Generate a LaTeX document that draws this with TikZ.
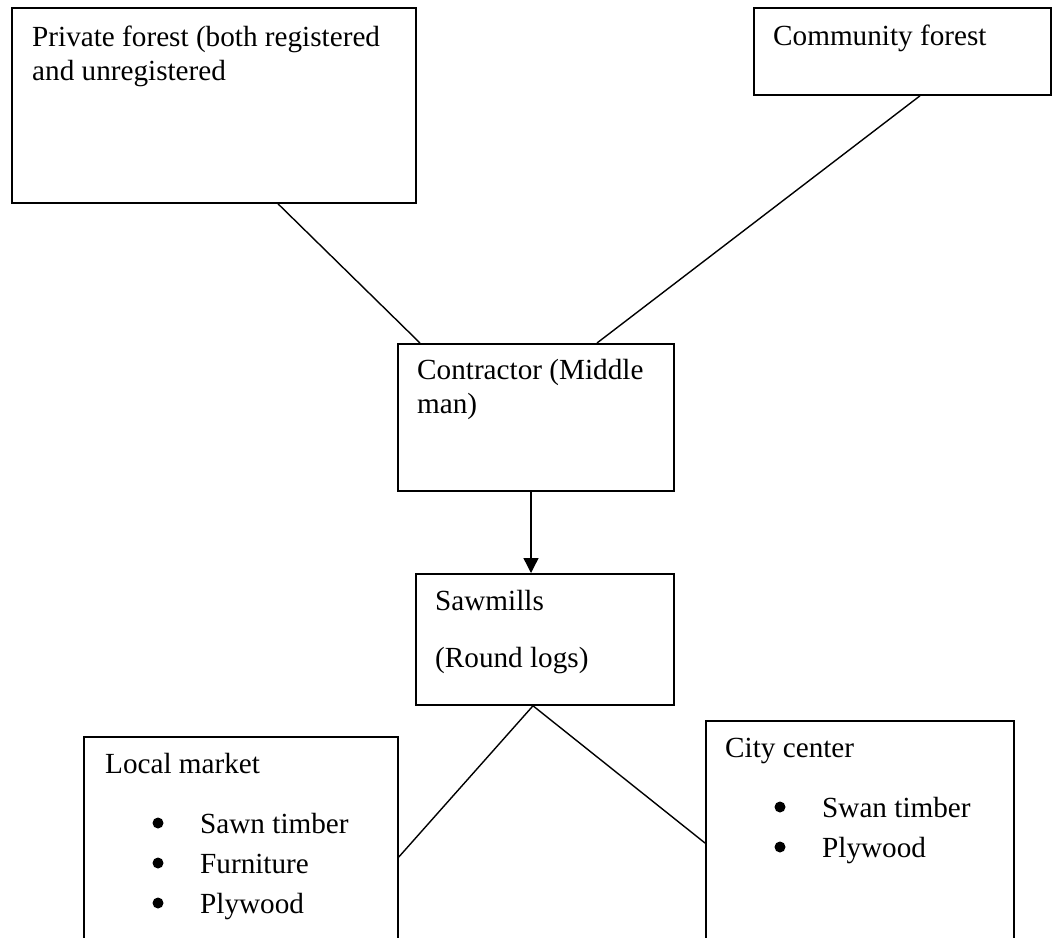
\documentclass[tikz,border=0pt]{standalone}
\usepackage{fontspec}
\setmainfont{Liberation Serif}
\usetikzlibrary{calc,arrows.meta}
\tikzset{
  box/.style={draw, line width=1.8pt, inner sep=0pt},
  txt/.style={anchor=base west, inner sep=0pt, font=\fontsize{29.2}{34}\selectfont},
  link/.style={line width=1.4pt}
}
\newcommand{\flowbox}[5]{
  \node [box, anchor=north west, minimum width={(#4)-(#2)}, minimum height={(#5)-(#3)}] (#1) at (#2,#3) {};
}
\newcommand{\boxtext}[4]{
  \node [txt] (#1) at (#2,#3) {#4};
}
% bullet dot sits 42pt left of the item text
\newcommand{\bulletitem}[4]{
  \node [txt] (#1) at (#2,#3) {#4};
  \fill ($(#1.base west)+(-42,-10)$) circle (5.5);
}
\begin{document}
\begin{tikzpicture}[x=1pt, y=-1pt]
        \clip (0,0) rectangle (1057,937);
        \flowbox{priv}{11}{7}{415}{202}
        \flowbox{comm}{753}{7}{1050}{94}
        \flowbox{contr}{397}{343}{673}{490}
        \flowbox{sawm}{415}{573}{673}{704}
        \flowbox{local}{83}{736}{397}{960}
        \flowbox{city}{705}{720}{1013}{960}
        \boxtext{privA}{32}{46}{Private forest (both registered}
        \boxtext{privB}{32}{80}{and unregistered}
        \boxtext{commA}{773}{45}{Community forest}
        \boxtext{contrA}{417}{379}{Contractor (Middle}
        \boxtext{contrB}{417}{413}{man)}
        \boxtext{sawmA}{435}{610}{Sawmills}
        \boxtext{sawmB}{435}{667}{(Round logs)}
        \boxtext{localA}{105}{773}{Local market}
        \bulletitem{localB}{200}{833}{Sawn timber}
        \bulletitem{localC}{200}{873}{Furniture}
        \bulletitem{localD}{200}{913}{Plywood}
        \boxtext{cityA}{725}{757}{City center}
        \bulletitem{cityB}{822}{817}{Swan timber}
        \bulletitem{cityC}{822}{857}{Plywood}
        % connectors
        \draw [link] ($(priv.south west)+(267,0)$) -- ($(contr.north west)+(23,0)$);
        \draw [link] ($(comm.south west)+(167,0)$) -- ($(contr.north west)+(200,0)$);
        \draw [link, -{Triangle[width=15pt,length=15pt]}] ($(contr.south west)+(134,0)$) -- ($(sawm.north west)+(116,0)$);
        \draw [link] ($(sawm.south west)+(118,0)$) -- ($(local.north east)+(0,121)$);
        \draw [link] ($(sawm.south west)+(118,0)$) -- ($(city.north west)+(0,123)$);
\end{tikzpicture}
\end{document}
